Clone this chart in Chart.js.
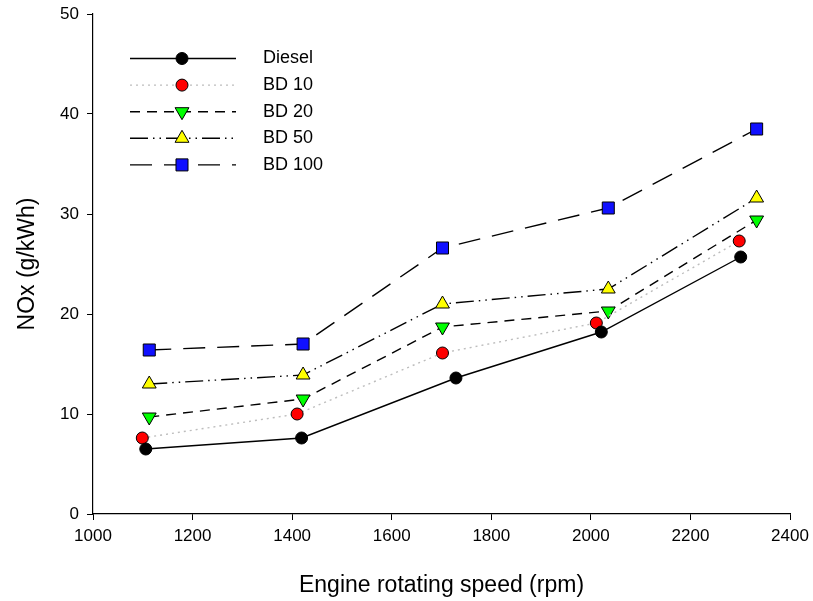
<!DOCTYPE html>
<html>
<head>
<meta charset="utf-8">
<script src="https://cdn.jsdelivr.net/npm/chart.js@4"></script>
<style>
  body { margin: 0; background: #fff; }
  canvas { display: block; }
</style>
</head>
<body>
<canvas id="noxChart" width="813" height="601"></canvas>
<script>
// engine speed (rpm) and NOx (g/kWh) per fuel
const dieselRpm = [1106, 1419, 1729, 2021, 2301];
const dieselNox = [6.5, 7.6, 13.6, 18.2, 25.7];
const bd10Rpm = [1099, 1410, 1702, 2011, 2298];
const bd10Nox = [7.6, 10.0, 16.1, 19.1, 27.3];
const bd20Rpm = [1113, 1422, 1702, 2035, 2333];
const bd20Nox = [9.7, 11.5, 18.7, 20.3, 29.4];
const bd50Rpm = [1113, 1422, 1702, 2035, 2333];
const bd50Nox = [13.0, 13.9, 21.0, 22.5, 31.6];
const bd100Rpm = [1113, 1422, 1702, 2035, 2333];
const bd100Nox = [16.4, 17.0, 26.6, 30.6, 38.5];

const xTicks = [1000, 1200, 1400, 1600, 1800, 2000, 2200, 2400];
const yTicks = [0, 10, 20, 30, 40, 50];

const FONT = "'Liberation Sans', Arial, sans-serif";

function pts(xs, ys) {
  return xs.map((x, i) => ({ x: x, y: ys[i] }));
}

function series(label, xs, ys, opts) {
  return Object.assign({
    label: label,
    data: pts(xs, ys),
    showLine: true,
    borderColor: '#000',
    borderWidth: 1.4,
    tension: 0,
    fill: false,
    pointBorderColor: '#000',
    pointBorderWidth: 1,
    pointRadius: 6,
  }, opts);
}

const datasets = [
  series('Diesel', dieselRpm, dieselNox, { pointBackgroundColor: '#000', pointStyle: 'circle' }),
  series('BD 10', bd10Rpm, bd10Nox, { borderColor: '#bdbdbd', borderDash: [2, 4], pointBackgroundColor: '#ff0000', pointStyle: 'circle' }),
  series('BD 20', bd20Rpm, bd20Nox, { borderDash: [10, 7], pointBackgroundColor: '#00ff00', pointStyle: 'triangle', pointRotation: 180, pointRadius: 8 }),
  series('BD 50', bd50Rpm, bd50Nox, { borderDash: [18, 5, 1.5, 5, 1.5, 5], pointBackgroundColor: '#ffff00', pointStyle: 'triangle', pointRadius: 8 }),
  series('BD 100', bd100Rpm, bd100Nox, { borderDash: [22, 12], pointBackgroundColor: '#1010ff', pointStyle: 'rect', pointRadius: 8.5 }),
];

// legend drawn by hand: dashed line with the marker in the middle
const lineLegend = {
  id: 'lineLegend',
  afterDatasetsDraw(chart) {
    const ctx = chart.ctx;
    const x0 = 130, x1 = 236, xm = 182, xt = 263;
    chart.data.datasets.forEach((ds, i) => {
      const y = 58.5 + i * 26.6;
      ctx.save();
      ctx.strokeStyle = ds.borderColor;
      ctx.lineWidth = ds.borderWidth;
      ctx.setLineDash(ds.borderDash || []);
      ctx.beginPath();
      ctx.moveTo(x0, y);
      ctx.lineTo(x1, y);
      ctx.stroke();
      ctx.setLineDash([]);
      ctx.fillStyle = ds.pointBackgroundColor;
      ctx.strokeStyle = '#000';
      ctx.lineWidth = 1;
      Chart.helpers.drawPoint(ctx, {
        pointStyle: ds.pointStyle,
        radius: ds.pointRadius,
        rotation: ds.pointRotation || 0,
        borderWidth: 1,
      }, xm, y);
      ctx.fillStyle = '#000';
      ctx.font = '18px ' + FONT;
      ctx.textBaseline = 'middle';
      ctx.fillText(ds.label, xt, y);
      ctx.restore();
    });
  }
};

const axisGrid = {
  display: true,
  drawOnChartArea: false,
  drawTicks: true,
  tickLength: 6,
  color: '#000',
  lineWidth: 1,
};

new Chart(document.getElementById('noxChart').getContext('2d'), {
  type: 'scatter',
  data: { datasets: datasets },
  plugins: [lineLegend],
  options: {
    responsive: false,
    animation: false,
    layout: { padding: { left: 0, top: 14, right: 23, bottom: 0 } },
    plugins: {
      legend: { display: false },
      tooltip: { enabled: false },
    },
    scales: {
      x: {
        type: 'linear',
        min: xTicks[0],
        max: xTicks[xTicks.length - 1],
        afterBuildTicks: s => { s.ticks = xTicks.map(v => ({ value: v })); },
        afterFit: s => { s.height = 87; s.paddingLeft = 0; s.paddingRight = 0; },
        grid: axisGrid,
        border: { display: true, color: '#000', width: 1.2 },
        ticks: { color: '#000', font: { family: FONT, size: 17 }, padding: 6, maxRotation: 0, callback: v => String(v) },
        title: { display: true, text: 'Engine rotating speed (rpm)', color: '#000', font: { family: FONT, size: 23 }, padding: { top: 10, bottom: 2 } },
      },
      y: {
        type: 'linear',
        min: yTicks[0],
        max: yTicks[yTicks.length - 1],
        afterBuildTicks: s => { s.ticks = yTicks.map(v => ({ value: v })); },
        afterFit: s => { s.width = 93; s.paddingTop = 0; s.paddingBottom = 0; },
        grid: axisGrid,
        border: { display: true, color: '#000', width: 1.2 },
        ticks: { color: '#000', font: { family: FONT, size: 17 }, padding: 8, callback: v => String(v) },
        title: { display: true, text: 'NOx (g/kWh)', color: '#000', font: { family: FONT, size: 23 }, padding: { top: 14, bottom: 0 } },
      },
    },
  },
});
</script>
</body>
</html>
